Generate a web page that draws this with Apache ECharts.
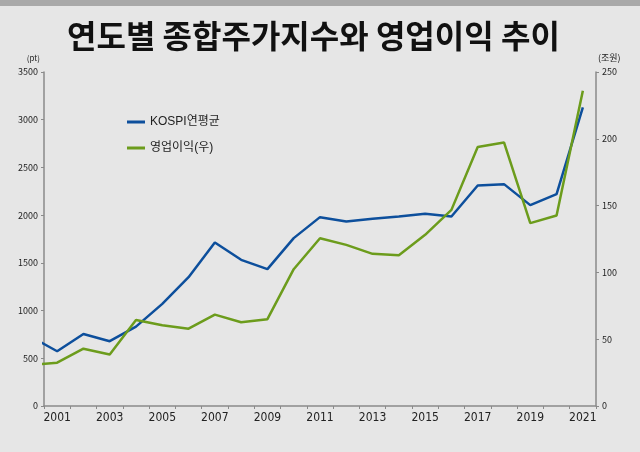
<!DOCTYPE html>
<html>
<head>
<meta charset="utf-8">
<script src="https://cdn.jsdelivr.net/npm/echarts@6/dist/echarts.min.js"></script>
<style>
  html, body { margin: 0; padding: 0; background: #e6e6e6; }
  #chart { width: 640px; height: 452px; }
</style>
</head>
<body>
<div id="chart"></div>
<script>
  // 연도 (2000년 값은 왼쪽 끝에서 잘려 보임)
  var years = [2000, 2001, 2002, 2003, 2004, 2005, 2006, 2007, 2008, 2009, 2010,
    2011, 2012, 2013, 2014, 2015, 2016, 2017, 2018, 2019, 2020, 2021]
  var shownYears = ['2001', '2002', '2003', '2004', '2005', '2006', '2007', '2008', '2009', '2010',
    '2011', '2012', '2013', '2014', '2015', '2016', '2017', '2018', '2019', '2020', '2021']
  // KOSPI 연평균 (pt)
  var kospi = [726, 574, 755, 679, 832, 1070, 1350, 1713, 1532, 1434, 1759,
    1979, 1934, 1962, 1986, 2014, 1986, 2311, 2325, 2105, 2220, 3129]
  // 영업이익 (조원)
  var profit = [30.6, 32.4, 42.9, 38.5, 64.4, 60.4, 57.9, 68.4, 62.7, 65.0, 102.4,
    125.6, 120.6, 113.9, 112.9, 128.1, 146.8, 193.8, 197.3, 136.9, 142.6, 236]
  var leftTicks = [0, 500, 1000, 1500, 2000, 2500, 3000, 3500]
  var rightTicks = [0, 50, 100, 150, 200, 250]

  function pairs(vals) {
    // 카테고리 칸 가운데에 점을 둔다 (2001 -> 0.5)
    return years.map(function (y, i) { return [y - 2000.5, vals[i]] })
  }

  var myChart = echarts.init(document.getElementById('chart'))
  myChart.setOption({
    backgroundColor: '#e6e6e6',
    textStyle: { fontFamily: '"Noto Sans CJK KR", "Noto Sans", sans-serif' },
    graphic: [{
      type: 'rect',
      shape: { x: 0, y: 0, width: 640, height: 6 },
      style: { fill: '#a9a9a9' }
    }],
    title: {
      text: '연도별 종합주가지수와 영업이익 추이',
      left: 62,
      top: 15,
      textStyle: {
        fontFamily: '"Noto Sans CJK KR", sans-serif',
        fontSize: 32,
        fontWeight: 'bold',
        color: '#111'
      }
    },
    legend: {
      orient: 'vertical',
      left: 122,
      top: 111,
      itemWidth: 18,
      itemHeight: 3,
      itemGap: 14,
      icon: 'rect',
      textStyle: { fontSize: 12, color: '#222', fontFamily: '"Liberation Sans", "Noto Sans CJK KR", sans-serif' },
      data: ['KOSPI연평균', '영업이익(우)']
    },
    grid: { left: 44, right: 44, top: 72, bottom: 46, containLabel: false },
    xAxis: [{
      type: 'value',
      min: 0,
      max: shownYears.length,
      interval: 1,
      axisLine: { lineStyle: { color: '#8a8a8a', width: 1.5 } },
      axisTick: { show: true, length: 3, lineStyle: { color: '#8a8a8a' } },
      axisLabel: { show: false },
      splitLine: { show: false }
    }, {
      type: 'category',
      data: shownYears,
      boundaryGap: true,
      position: 'bottom',
      axisLine: { show: false },
      axisTick: { show: false },
      axisLabel: {
        interval: 1,
        margin: 6,
        fontSize: 12,
        color: '#222',
        fontFamily: '"Liberation Sans Narrow", "DejaVu Sans Condensed", sans-serif'
      }
    }],
    yAxis: [{
      type: 'value',
      name: '(pt)',
      nameLocation: 'end',
      nameGap: 10,
      nameTextStyle: { fontSize: 8, color: '#222', align: 'right', padding: [0, 4, 0, 0] },
      min: leftTicks[0],
      max: leftTicks[leftTicks.length - 1],
      interval: 500,
      axisLine: { show: true, lineStyle: { color: '#8a8a8a', width: 1.5 } },
      axisTick: { show: true, length: 3, lineStyle: { color: '#8a8a8a' } },
      axisLabel: { fontSize: 9, color: '#222', margin: 6, formatter: function (v) { return String(v) } },
      splitLine: { show: false }
    }, {
      type: 'value',
      name: '(조원)',
      nameLocation: 'end',
      nameGap: 10,
      nameTextStyle: { fontSize: 9, color: '#222', align: 'left', padding: [0, 0, 0, 2] },
      min: rightTicks[0],
      max: rightTicks[rightTicks.length - 1],
      interval: 50,
      axisLine: { show: true, lineStyle: { color: '#8a8a8a', width: 1.5 } },
      axisTick: { show: true, length: 3, lineStyle: { color: '#8a8a8a' } },
      axisLabel: { fontSize: 9, color: '#222', margin: 6, formatter: function (v) { return String(v) } },
      splitLine: { show: false }
    }],
    series: [{
      name: 'KOSPI연평균',
      type: 'line',
      xAxisIndex: 0,
      yAxisIndex: 0,
      data: pairs(kospi),
      clip: true,
      symbol: 'none',
      color: '#0d4f9c',
      lineStyle: { width: 2.5, color: '#0d4f9c' }
    }, {
      name: '영업이익(우)',
      type: 'line',
      xAxisIndex: 0,
      yAxisIndex: 1,
      data: pairs(profit),
      clip: true,
      symbol: 'none',
      color: '#6c9c1c',
      lineStyle: { width: 2.5, color: '#6c9c1c' }
    }]
  })
</script>
</body>
</html>
